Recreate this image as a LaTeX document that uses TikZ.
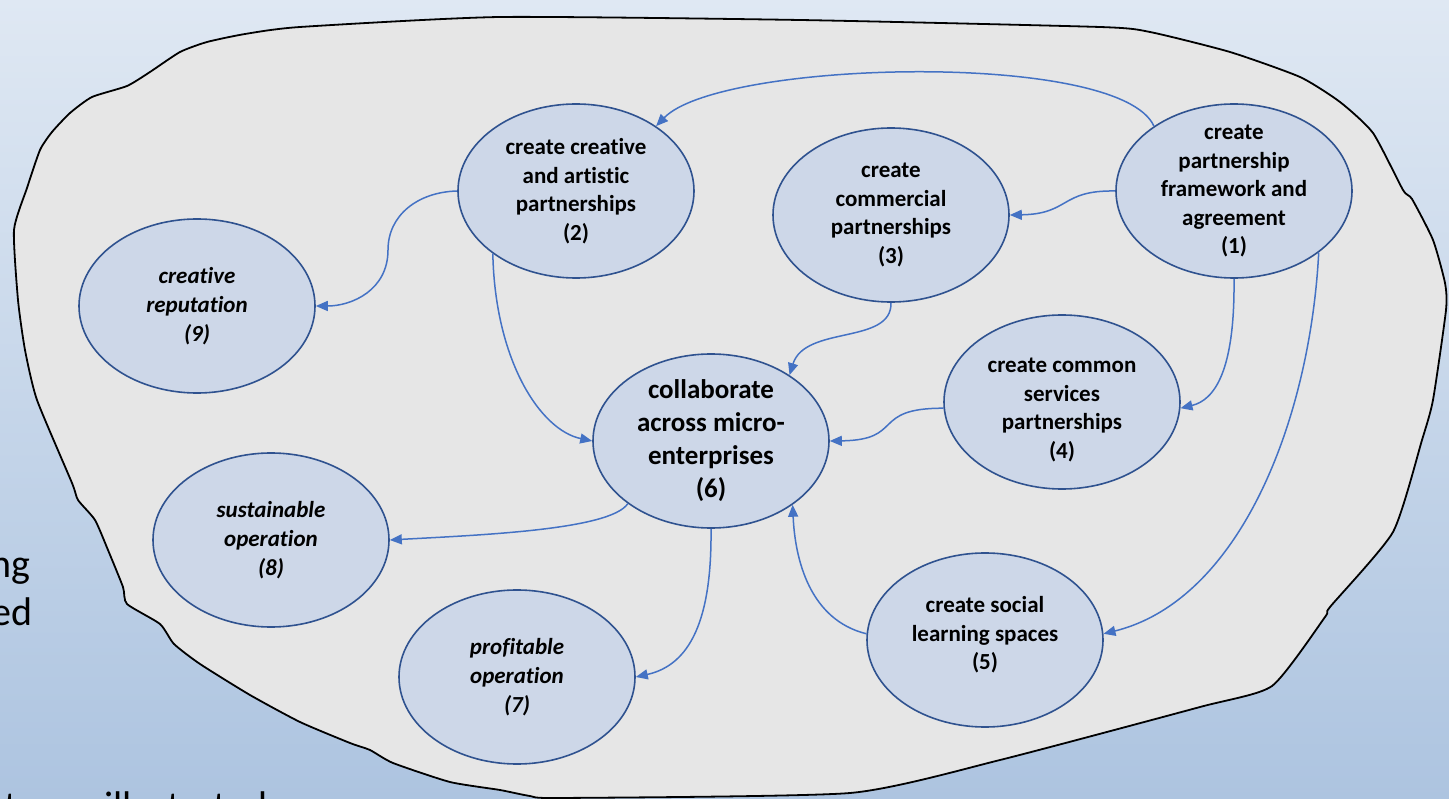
\documentclass[tikz,border=0pt]{standalone}
\usepackage{fontspec}
\setmainfont[Ligatures={NoCommon}]{Carlito}
\usetikzlibrary{shapes.geometric,arrows.meta}
\definecolor{bgtop}{HTML}{DFE8F3}
\definecolor{bgbot}{HTML}{ADC4E0}
\definecolor{blobfill}{HTML}{E6E6E6}
\definecolor{ellfill}{HTML}{CDD7E8}
\definecolor{ellline}{HTML}{2F528F}
\definecolor{connblue}{HTML}{4472C4}
\tikzset{
  ell/.style={ellipse, draw=ellline, fill=ellfill, line width=1.6pt, minimum width=236pt, minimum height=174pt, inner sep=0pt},
  txt/.style={align=center, inner sep=0pt, font=\bfseries\fontsize{23}{28.5}\selectfont},
  itxt/.style={align=center, inner sep=0pt, font=\bfseries\itshape\fontsize{23}{29}\selectfont},
  bigtxt/.style={align=center, inner sep=0pt, font=\bfseries\fontsize{27}{33}\selectfont},
  conn/.style={draw=connblue, line width=1.5pt, -{Triangle[length=12pt,width=10pt]}},
  sidetxt/.style={inner sep=0pt, font=\fontsize{40}{48}\selectfont}
}
\begin{document}
\begin{tikzpicture}[x=1pt,y=-1pt]
\useasboundingbox (0,0) rectangle (1449,799);
\clip (0,0) rectangle (1449,799);
\shade[top color=bgtop, bottom color=bgbot] (0,0) rectangle (1449,799);
% side text (cut off at the picture's edges)
\node[sidetxt, anchor=base east] (t1) at (31,577) {ng};
\node[sidetxt, anchor=base east] (t2) at (33,625) {ed};
\node[sidetxt, anchor=base west] (t3) at (4,819) {t};
\node[sidetxt, anchor=base west] (t4) at (104,819) {illustrated};
% blob
\draw[fill=blobfill, line width=1.8pt, line join=round] plot[smooth cycle, tension=0.35] coordinates {
 (14,230) (27,188) (40,150) (52,132) (70,113) (92,97) (127,86) (150,72) (180,52) (207,42) (245,34) (300,27)
 (500,17) (800,20) (1100,27) (1150,32) (1230,52) (1300,77) (1340,102) (1373,133) (1403,190) (1412,199)
 (1433,240) (1445,283) (1446,310) (1433,400) (1422,440) (1393,532) (1330,607) (1325,617) (1272,686)
 (1200,707) (1000,760) (850,793) (560,798) (530,796) (500,790) (450,782) (393,763) (370,750) (350,743)
 (300,722) (250,695) (200,664) (174,644) (160,624) (127,604) (123,587) (108,550) (95,520) (78,500) (72,483)
 (37,400) (25,350) (18,300)};
% ellipses
\node[ell] (n1) at (1234,191) {};
\node[ell] (n2) at (576,191) {};
\node[ell] (n3) at (891,215) {};
\node[ell] (n4) at (1062,402) {};
\node[ell] (n5) at (985,640) {};
\node[ell] (n6) at (711,441) {};
\node[ell] (n9) at (197,306) {};
\node[ell] (n8) at (271,540) {};
\node[ell] (n7) at (517,677) {};
% texts
\node[txt] (l1) at (n1) {create\\partnership\\framework and\\agreement\\(1)};
\node[txt] (l2) at (n2) {create creative\\and artistic\\partnerships\\(2)};
\node[txt] (l3) at (n3) {create\\commercial\\partnerships\\(3)};
\node[txt] (l4) at ([yshift=-8pt]n4.center) {create common\\services\\partnerships\\(4)};
\node[txt] (l5) at ([yshift=5pt]n5.center) {create social\\learning spaces\\(5)};
\node[bigtxt] (l6) at (n6) {collaborate\\across micro-\\enterprises\\(6)};
\node[itxt] (l9) at (n9) {creative\\reputation\\(9)};
\node[itxt] (l8) at (n8) {sustainable\\operation\\(8)};
\node[itxt] (l7) at (n7) {profitable\\operation\\(7)};
% connectors
\coordinate (k29) at (388,250);
\draw[conn] (n1.141.7) .. controls (1120,50) and (720,60) .. (n2.39.7);
\draw[conn] (n1.180) .. controls (1060,190) and (1070,214) .. (n3.0);
\draw[conn] (n1.-90) .. controls (1235,370) and (1215,400) .. (n4.-3);
\draw[conn] (n1.-36.9) .. controls (1310,420) and (1240,600) .. (n5.3.8);
\draw[conn] (n2.180) .. controls (418,192) and (388,215) .. (k29) .. controls (388,290) and (352,306) .. (n9.0);
\draw[conn] (n2.217.1) .. controls (495,360) and (540,430) .. (n6.180);
\draw[conn] (n3.-90) .. controls (892,345) and (805,325) .. (n6.40.1);
\draw[conn] (n4.183) .. controls (870,408) and (905,440) .. (n6.0);
\draw[conn] (n5.177.6) .. controls (810,620) and (795,560) .. (n6.-38.8);
\draw[conn] (n6.217.3) .. controls (610,530) and (480,535) .. (n8.0);
\draw[conn] (n6.-90) .. controls (712,620) and (690,665) .. (n7.0);
\end{tikzpicture}
\end{document}
